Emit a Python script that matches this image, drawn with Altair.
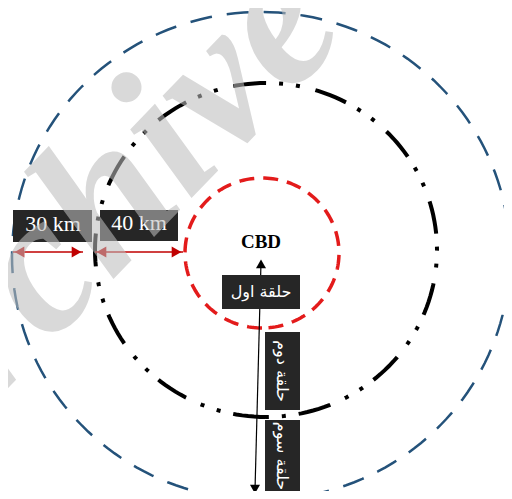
import altair as alt
import numpy as np
import pandas as pd

# ---- diagram data (diagram coordinates, y grows downward) ----
ring_ids = ["inner", "middle", "outer"]
ring_cx = [262, 266, 261]
ring_cy = [253, 250, 256]
ring_rx = [77, 171, 249]
ring_ry = [75, 167, 244]
ring_colors = ["#e31b1b", "#000000", "#24527a"]
ring_widths = [3.5, 4.0, 2.5]
ring_dashes = [[15, 9], [33, 13, 4, 13, 4, 16], [22, 15]]

box_x1 = [13, 100, 222, 265, 265]
box_x2 = [92, 178, 300, 300, 300]
box_y1 = [210, 210, 275, 332, 420]
box_y2 = [242, 241, 309, 410, 505]

km_labels = ["30 km", "40 km"]
km_x = [53, 139]
km_y = [231, 230]

ring_labels = ["حلقة اول", "حلقة دوم", "حلقة سوم"]
ring_label_x = [261, 282, 282]
ring_label_y = [292, 371, 456]
ring_label_angle = [0, 90, 90]

dim_x1 = [13, 95]
dim_x2 = [83, 183]
dim_y = [252, 252]

axis_x = [261, 255]
axis_y = [258, 495]

center_label = "CBD"
center_xy = [261, 248]

watermark = "Archive"
watermark_xy = [350, 34]

# ---- build tables ----
deg = np.arange(0, 361, 2)
rows = []
for i, rid in enumerate(ring_ids):
    t = np.deg2rad(deg + 90)
    for k, a in enumerate(t):
        rows.append({"ring": rid, "o": k,
                     "x": ring_cx[i] + ring_rx[i] * np.cos(a),
                     "y": ring_cy[i] + ring_ry[i] * np.sin(a)})
rings_df = pd.DataFrame(rows)

X = lambda f="x": alt.X(f"{f}:Q", scale=alt.Scale(domain=[8, 504]), axis=None)
Y = lambda f="y": alt.Y(f"{f}:Q", scale=alt.Scale(domain=[8, 491], reverse=True), axis=None)

layers = []
for i, rid in enumerate(ring_ids):
    layers.append(
        alt.Chart(rings_df[rings_df.ring == rid]).mark_line(
            color=ring_colors[i], strokeWidth=ring_widths[i],
            strokeDash=ring_dashes[i], clip=True, strokeCap="butt"
        ).encode(x=X(), y=Y(), order="o:Q")
    )

# vertical axis arrow
axis_df = pd.DataFrame({"x": [axis_x[0], axis_x[1]], "y": [axis_y[0] + 4, axis_y[1] - 5], "o": [0, 1]})
layers.append(alt.Chart(axis_df).mark_line(color="black", strokeWidth=1.2, clip=True)
              .encode(x=X(), y=Y(), order="o:Q"))
heads_v = pd.DataFrame({"x": [axis_x[0], axis_x[1]],
                        "y": [axis_y[0] + 5.8, axis_y[1] - 5.8],
                        "s": ["triangle-up", "triangle-down"]})
layers.append(alt.Chart(heads_v).mark_point(filled=True, size=100, color="black", opacity=1, clip=True)
              .encode(x=X(), y=Y(), shape=alt.Shape("s:N", scale=None)))

# boxes
box_df = pd.DataFrame({"x": box_x1, "x2": box_x2, "y": box_y1, "y2": box_y2})
layers.append(alt.Chart(box_df).mark_rect(color="#262626", clip=True)
              .encode(x=X(), x2="x2:Q", y=Y(), y2="y2:Q"))

# dimension arrows
dim_df = pd.DataFrame({"x": dim_x1, "x2": dim_x2, "y": dim_y})
layers.append(alt.Chart(dim_df).mark_rule(color="#c00000", strokeWidth=1.5)
              .encode(x=X(), x2="x2:Q", y=Y()))
hx, hs = [], []
for a, b in zip(dim_x1, dim_x2):
    hx += [a + 6.5, b - 6.5]
    hs += ["triangle-left", "triangle-right"]
heads_h = pd.DataFrame({"x": hx, "y": [dim_y[0]] * len(hx), "s": hs})
layers.append(alt.Chart(heads_h).mark_point(filled=True, size=125, color="#c00000", opacity=1)
              .encode(x=X(), y=Y(), shape=alt.Shape("s:N", scale=None)))

# texts
km_df = pd.DataFrame({"t": km_labels, "x": km_x, "y": km_y})
layers.append(alt.Chart(km_df).mark_text(font="Liberation Serif", fontSize=22, color="white",
                                         align="center", baseline="alphabetic")
              .encode(x=X(), y=Y(), text="t:N"))

for t, x, y, ang in zip(ring_labels, ring_label_x, ring_label_y, ring_label_angle):
    d = pd.DataFrame({"t": [t], "x": [x], "y": [y]})
    layers.append(alt.Chart(d).mark_text(font="DejaVu Sans", fontSize=16, color="white",
                                         align="center", baseline="middle", angle=ang)
                  .encode(x=X(), y=Y(), text="t:N"))

c_df = pd.DataFrame({"t": [center_label], "x": [center_xy[0]], "y": [center_xy[1]]})
layers.append(alt.Chart(c_df).mark_text(font="Liberation Serif", fontSize=19, fontWeight="bold",
                                        color="black", align="center", baseline="alphabetic")
              .encode(x=X(), y=Y(), text="t:N"))

w_df = pd.DataFrame({"t": [watermark], "x": [watermark_xy[0]], "y": [watermark_xy[1]]})
layers.append(alt.Chart(w_df).mark_text(font="Liberation Serif", fontSize=200, fontWeight="bold",
                                        fontStyle="italic", color="#bdbdbd", opacity=0.57,
                                        align="right", baseline="alphabetic", angle=314)
              .encode(x=X(), y=Y(), text="t:N"))

chart = alt.layer(*layers).properties(
    width=496, height=483, padding=0, autosize="none", background="white"
).configure_view(stroke=None)

chart.save("out.html", embed_options={"renderer": "svg", "actions": False})
